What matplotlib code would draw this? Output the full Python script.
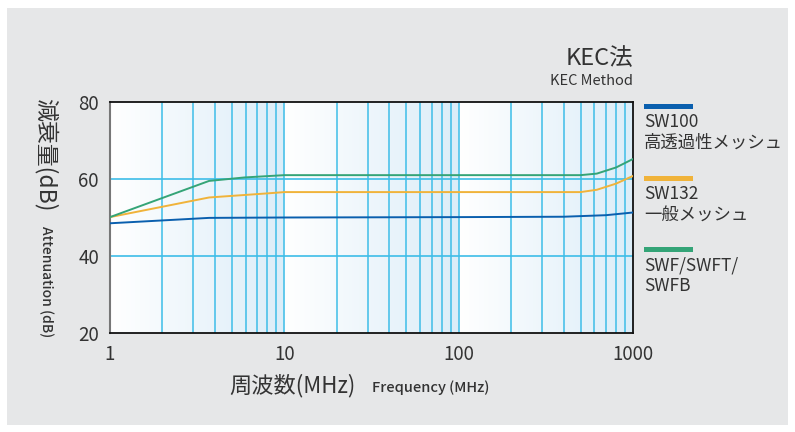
import numpy as np
import matplotlib.pyplot as plt
from matplotlib.patches import Rectangle
from matplotlib.colors import LinearSegmentedColormap

plt.rcParams['font.family'] = ['Noto Sans CJK JP', 'DejaVu Sans']

# attenuation curves (MHz, dB)
sw100_f = [1, 3.7, 10, 100, 400, 700, 1000]
sw100_db = [48.5, 49.9, 50.0, 50.1, 50.2, 50.6, 51.3]

sw132_f = [1, 3.7, 8.2, 10, 100, 500, 620, 800, 1000]
sw132_db = [50.1, 55.2, 56.3, 56.6, 56.6, 56.6, 57.2, 58.8, 60.8]

swf_f = [1, 3.7, 5.9, 10, 100, 500, 620, 800, 1000]
swf_db = [50.1, 59.5, 60.4, 61.0, 61.0, 61.0, 61.4, 63.0, 65.2]

series = [
    (sw100_f, sw100_db, "#0a5fae", "SW100\n高透過性メッシュ"),
    (sw132_f, sw132_db, "#f0b33a", "SW132\n一般メッシュ"),
    (swf_f, swf_db, "#34a477", "SWF/SWFT/\nSWFB"),
]

y_ticks = [20, 40, 60, 80]
x_ticks = [1, 10, 100, 1000]
x_labels = ["1", "10", "100", "1000"]

text_color = "#333333"
grid_color = "#3dbde8"

fig = plt.figure(figsize=(7.95, 4.32), dpi=100)
fig.patch.set_facecolor("white")
fig.patches.append(Rectangle((7 / 795, 1 - 425 / 432), 781 / 795, 417 / 432,
                             transform=fig.transFigure, facecolor="#e6e7e8",
                             edgecolor="none", zorder=-10))

rect = [110 / 795, 1 - 333 / 432, 523 / 795, 231 / 432]

# background: white to light blue gradient in each decade
bg = fig.add_axes(rect, zorder=0)
cmap = LinearSegmentedColormap.from_list("band", ["#ffffff", "#dcedf8"])
grad = np.tile(np.linspace(0, 1, 200), 3)[None, :]
bg.imshow(grad, cmap=cmap, aspect="auto", extent=[0, 3, 0, 1],
          interpolation="bilinear")
bg.set_xlim(0, 3)
bg.set_ylim(0, 1)
bg.axis("off")

ax = fig.add_axes(rect, zorder=1)
ax.patch.set_alpha(0)
ax.set_xscale("log")
ax.set_xlim(1, 1000)
ax.set_ylim(20, 80)

# vertical grid lines at every minor value
for d in [1, 10, 100]:
    for k in range(2, 10):
        ax.axvline(d * k, color=grid_color, lw=1.1, zorder=1)
for v in [10, 100]:
    ax.axvline(v, color=grid_color, lw=1.1, zorder=1)
for v in [40, 60]:
    ax.axhline(v, color=grid_color, lw=1.2, zorder=1)

for f, db, col, lab in series:
    ax.plot(f, db, color=col, lw=1.4, zorder=3)

ax.set_yticks(y_ticks)
ax.set_xticks(x_ticks)
ax.set_xticklabels(x_labels)
ax.minorticks_off()
ax.tick_params(length=0, labelsize=13.5, colors=text_color)
ax.tick_params(axis="x", pad=8)
ax.tick_params(axis="y", pad=8)
for s in ["top", "right", "bottom"]:
    ax.spines[s].set_color("#111111")
    ax.spines[s].set_linewidth(1.3)
ax.spines["left"].set_color("#777777")
ax.spines["left"].set_linewidth(1.5)

# titles
fig.text(633 / 795, 1 - 59 / 432, "KEC法", ha="right", va="center",
         fontsize=17, color=text_color)
fig.text(633 / 795, 1 - 81 / 432, "KEC Method", ha="right", va="center",
         fontsize=10.5, color=text_color)

# axis labels
fig.text(46 / 795, 1 - 155 / 432, "減衰量(dB)", rotation=-90, ha="center",
         va="center", fontsize=16.5, color=text_color)
fig.text(46 / 795, 1 - 282 / 432, "Attenuation (dB)", rotation=-90,
         ha="center", va="center", fontsize=10, color=text_color,
         fontweight="medium")
fig.text(356 / 795, 1 - 386 / 432, "周波数(MHz)", ha="right", va="center",
         fontsize=16, color=text_color)
fig.text(372 / 795, 1 - 388 / 432, "Frequency (MHz)", ha="left", va="center",
         fontsize=10.5, color=text_color, fontweight="medium")

# legend
leg_y = [106, 178, 249]
for (f, db, col, lab), y in zip(series, leg_y):
    fig.patches.append(Rectangle((644 / 795, 1 - (y + 2.5) / 432), 49 / 795,
                                 5 / 432, transform=fig.transFigure,
                                 facecolor=col, edgecolor="none"))
    fig.text(644 / 795, 1 - (y + 7) / 432, lab, ha="left", va="top",
             fontsize=12.5, color=text_color, linespacing=1.2)

fig.savefig("out.png", dpi=100)
